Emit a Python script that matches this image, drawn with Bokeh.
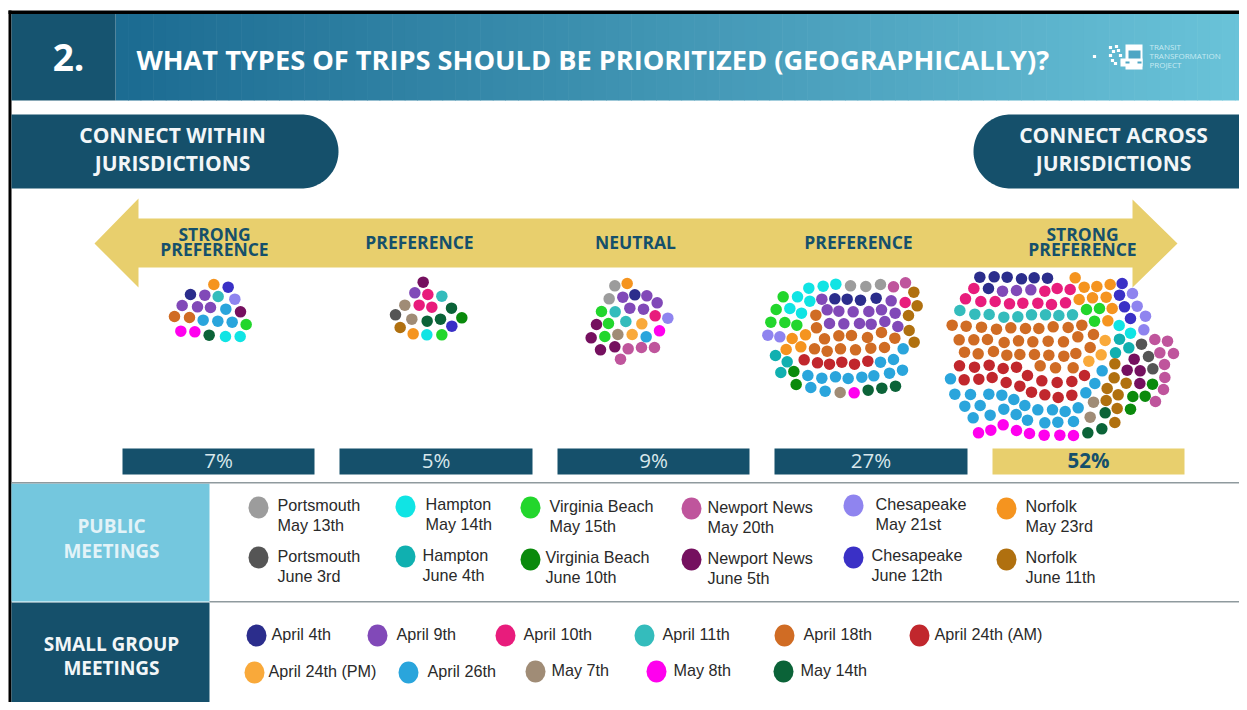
import numpy as np
from bokeh.plotting import figure
from bokeh.models import ColumnDataSource
from bokeh.core.properties import value
from bokeh.embed import file_html
from bokeh.resources import INLINE

# ---- meetings and their colours
MEETING_COLORS = {
    "portm": "#9c9c9c", "hamm": "#10e4e4", "vbm": "#22d62c", "nnm": "#bf559c", "chm": "#8f84ef", "norm": "#f5941f",
    "portj": "#555555", "hamj": "#10b0b0", "vbj": "#0a8a0c", "nnj": "#75105f", "chj": "#3a30c6", "norj": "#b0700f",
    "apr4": "#2b2d8c", "apr9": "#8149b8", "apr10": "#e81c7c", "apr11": "#34bcbc", "apr18": "#d06c24", "apr24am": "#c1272d",
    "apr24pm": "#f9a93a", "apr26": "#2aa5dc", "may7": "#a08c76", "may8": "#ff00ee", "may14": "#0b6338",
}
# ---- categories and shares
SCALE_LABELS = ["7%", "5%", "9%", "27%", "52%"]
SCALE_LEFT = [122, 339, 557, 774, 992]
SCALE_RIGHT = [314, 532, 749, 967, 1184]
PREF_X = [214, 419, 635, 858, 1082]

# ---- dots: (x, y, meeting); divide by SCALE and add origin
SCALE = 3.0
DOTS_A = (150, 270, [(190,42,"norm"),(233,50,"chj"),(120,72,"apr4"),(163,74,"apr9"),(203,78,"apr11"),(253,86,"chm"),
    (95,105,"apr9"),(141,109,"apr9"),(180,111,"apr9"),(226,116,"apr26"),(270,124,"nnj"),(72,138,"apr18"),(117,141,"apr18"),
    (158,149,"apr26"),(202,152,"apr26"),(245,155,"apr26"),(287,162,"vbm"),(91,182,"may8"),(133,184,"may8"),(176,194,"may14"),
    (225,198,"hamm"),(269,198,"hamm")])
DOTS_B = (375, 270, [(143,35,"nnj"),(118,67,"apr9"),(157,72,"apr10"),(199,77,"apr11"),(88,104,"may7"),(131,104,"apr10"),
    (169,110,"apr10"),(228,113,"may14"),(60,133,"portj"),(109,146,"may7"),(155,152,"may14"),(195,146,"may14"),(259,142,"vbj"),
    (229,167,"chj"),(74,171,"norj"),(113,190,"norm"),(154,193,"hamm"),(199,193,"vbm")])
DOTS_C = (575, 270, [(118,46,"portm"),(155,39,"norm"),(101,85,"portm"),(142,80,"apr9"),(178,73,"apr4"),(214,76,"apr9"),
    (245,97,"apr9"),(78,123,"vbm"),(119,124,"apr11"),(163,113,"apr9"),(204,116,"apr9"),(239,136,"apr10"),(277,143,"chm"),
    (63,162,"nnj"),(99,159,"vbm"),(151,153,"apr11"),(199,160,"apr24pm"),(47,202,"nnj"),(88,198,"vbm"),(127,192,"may7"),
    (170,192,"apr24pm"),(212,199,"apr26"),(252,181,"may8"),(75,238,"nnj"),(118,229,"nnj"),(158,235,"nnm"),(198,231,"nnm"),
    (237,231,"nnm"),(135,266,"nnm")])
DOTS_D = (755, 270, [(160,53,"hamm"),(203,47,"hamm"),(241,41,"hamm"),(285,46,"portm"),(331,48,"portm"),(375,42,"portm"),
    (414,49,"nnm"),(450,37,"nnm"),(475,65,"norj"),(83,79,"vbm"),(126,79,"hamm"),(163,92,"hamm"),(199,86,"apr9"),(238,85,"apr4"),
    (275,86,"apr4"),(315,89,"apr4"),(362,83,"apr4"),(407,91,"apr9"),(449,96,"apr10"),(485,106,"norj"),(62,117,"vbm"),
    (103,114,"hamm"),(138,128,"hamm"),(181,134,"apr18"),(215,118,"apr9"),(250,122,"apr9"),(293,124,"apr9"),(340,123,"apr9"),
    (378,118,"apr9"),(419,128,"apr9"),(459,135,"norj"),(46,155,"vbm"),(88,156,"vbm"),(124,164,"vbm"),(183,172,"apr18"),
    (222,159,"apr9"),(265,160,"apr9"),(312,159,"apr9"),(347,161,"apr9"),(388,153,"apr9"),(427,168,"apr9"),(461,180,"norj"),
    (37,194,"chm"),(73,199,"chm"),(110,204,"norm"),(150,193,"norm"),(207,205,"apr18"),(250,196,"apr18"),(288,195,"apr18"),
    (336,201,"apr18"),(378,186,"apr18"),(418,203,"apr18"),(476,215,"norj"),(92,237,"norm"),(136,229,"norm"),(177,235,"apr18"),
    (215,242,"apr18"),(255,235,"apr18"),(300,238,"apr18"),(346,233,"apr18"),(387,231,"apr18"),(443,235,"apr26"),(60,255,"hamj"),
    (146,268,"apr24am"),(186,277,"apr24am"),(222,281,"apr24am"),(259,275,"apr24am"),(297,281,"apr24am"),(337,272,"apr24am"),
    (375,275,"apr26"),(414,267,"apr26"),(95,274,"hamj"),(76,306,"hamj"),(115,303,"vbj"),(157,315,"apr26"),(199,323,"apr26"),
    (240,319,"apr26"),(278,324,"apr26"),(319,320,"apr26"),(355,316,"apr26"),(402,308,"apr26"),(441,299,"apr26"),(122,342,"vbj"),
    (166,351,"apr26"),(209,362,"apr26"),(254,366,"may7"),(296,367,"may8"),(338,359,"may14"),(379,353,"may14"),(420,347,"may14")])
DOTS_E1 = (940, 265, [(118,35,"apr4"),(161,34,"apr4"),(200,35,"apr4"),(243,40,"apr4"),(281,37,"apr4"),(321,38,"apr4"),
    (100,69,"apr10"),(144,69,"apr4"),(186,77,"apr9"),(228,75,"apr9"),(271,73,"apr9"),(313,77,"apr10"),(350,69,"apr10"),
    (75,100,"apr10"),(121,108,"apr10"),(164,108,"apr10"),(207,115,"apr10"),(247,113,"apr10"),(292,113,"apr10"),(333,117,"apr10"),
    (58,135,"apr11"),(103,146,"apr11"),(146,147,"apr11"),(190,155,"apr11"),(232,154,"apr11"),(273,148,"apr11"),(315,148,"apr11"),(355,150,"apr11"),
    (35,179,"apr18"),(77,182,"apr18"),(123,185,"apr18"),(168,191,"apr18"),(211,187,"apr18"),(255,189,"apr18"),(295,189,"apr18"),(338,184,"apr18"),
    (56,223,"apr18"),(100,223,"apr18"),(141,222,"apr18"),(191,231,"apr18"),(234,226,"apr18"),(277,229,"apr18"),(323,227,"apr18")])
DOTS_E2 = (1060, 265, [(44,37,"norm"),(71,65,"norm"),(109,63,"norm"),(149,57,"norm"),(185,54,"chj"),(29,72,"apr10"),(15,112,"apr10"),
    (56,102,"norm"),(96,97,"norm"),(137,95,"norm"),(177,89,"chj"),(216,84,"chm"),(78,132,"vbm"),(117,129,"vbm"),(155,129,"norm"),
    (192,124,"chj"),(230,122,"chm"),(36,148,"apr11"),(102,167,"vbm"),(142,166,"norm"),(210,159,"chj"),(255,152,"chm"),(23,186,"apr18"),
    (64,179,"apr18"),(176,180,"hamm"),(250,193,"chm"),(9,229,"apr18"),(52,214,"apr18"),(99,207,"apr18"),(134,225,"apr24pm"),
    (177,221,"hamj"),(210,203,"hamm"),(283,222,"nnm"),(321,227,"nnm"),(89,246,"apr18"),(205,247,"hamj"),(243,236,"portj")])
DOTS_E3 = (940, 350, [(72,5,"apr18"),(113,10,"apr18"),(159,3,"apr18"),(199,14,"apr18"),(238,12,"apr18"),(282,12,"apr18"),(325,14,"apr18"),
    (299,46,"apr18"),(345,52,"apr18"),(57,46,"apr24am"),(102,50,"apr24am"),(146,44,"apr24am"),(188,54,"apr24am"),(228,50,"apr24am"),
    (30,85,"apr26"),(71,88,"apr24am"),(115,86,"apr24am"),(155,81,"apr24am"),(197,96,"apr24am"),(261,75,"apr24am"),(304,91,"apr24am"),
    (350,96,"apr24am"),(238,107,"apr24am"),(273,125,"apr24am"),(313,133,"apr24am"),(353,141,"apr24am"),(43,131,"apr26"),(90,132,"apr26"),
    (145,131,"apr26"),(184,134,"apr26"),(220,147,"apr26"),(73,167,"apr26"),(119,165,"apr26"),(190,176,"apr26"),(253,165,"apr26"),
    (292,178,"apr26"),(336,178,"apr26"),(98,202,"apr26"),(149,194,"apr26"),(227,192,"apr26"),(261,209,"apr26"),(313,217,"apr26"),
    (352,215,"apr26"),(114,247,"may8"),(151,239,"may8"),(188,223,"may8"),(228,240,"may8"),(267,249,"may8"),(311,254,"may8"),(358,254,"may8")])
DOTS_E4 = (1060, 350, [(10,17,"apr18"),(46,9,"apr18"),(122,13,"apr24pm"),(165,7,"hamj"),(221,26,"nnj"),(264,18,"portj"),(298,7,"nnm"),(339,9,"nnm"),
    (38,52,"apr18"),(85,32,"apr24pm"),(163,40,"norj"),(200,59,"nnj"),(239,61,"nnj"),(277,55,"portj"),(312,42,"nnm"),(72,75,"apr24am"),
    (125,61,"apr26"),(161,82,"norj"),(197,98,"norj"),(238,99,"nnj"),(276,101,"vbj"),(313,81,"nnm"),(34,93,"apr24am"),(103,99,"apr26"),
    (140,114,"norj"),(309,117,"nnm"),(34,134,"apr24am"),(76,127,"apr26"),(173,133,"norj"),(217,138,"vbj"),(254,137,"vbj"),(99,155,"may7"),
    (137,150,"norj"),(285,153,"nnm"),(53,172,"apr26"),(14,183,"apr26"),(134,187,"may14"),(170,174,"norj"),(210,176,"vbj"),(89,200,"may7"),
    (39,213,"apr26"),(163,216,"norj"),(124,235,"may14"),(82,247,"may14"),(39,255,"may8")])

# ---- legend rows
LEGEND_PUBLIC = [
    (258,507,277,506,"Portsmouth","May 13th","portm"),(405,506,425,505,"Hampton","May 14th","hamm"),
    (530,507,549,507,"Virginia Beach","May 15th","vbm"),(691,508,707,508,"Newport News","May 20th","nnm"),
    (853,505,875,505,"Chesapeake","May 21st","chm"),(1006,508,1025,507,"Norfolk","May 23rd","norm"),
    (258,557,277,557,"Portsmouth","June 3rd","portj"),(405,556,422,556,"Hampton","June 4th","hamj"),
    (530,559,545,558,"Virginia Beach","June 10th","vbj"),(691,559,707,559,"Newport News","June 5th","nnj"),
    (853,557,871,556,"Chesapeake","June 12th","chj"),(1006,559,1025,558,"Norfolk","June 11th","norj"),
]
LEGEND_SMALL = [
    (256,635,271,"April 4th","apr4"),(377,635,396,"April 9th","apr9"),(505,635,523,"April 10th","apr10"),
    (644,635,662,"April 11th","apr11"),(784,635,803,"April 18th","apr18"),(919,635,934,"April 24th (AM)","apr24am"),
    (254,672,268,"April 24th (PM)","apr24pm"),(408,672,427,"April 26th","apr26"),(535,671,551,"May 7th","may7"),
    (656,671,673,"May 8th","may8"),(783,671,800,"May 14th","may14"),
]

DARK = "#15506b"
YELLOW = "#e8cf6d"
HEAD = "Open Sans"

p = figure(width=1239, height=702, x_range=(0, 1239), y_range=(702, 0), output_backend="svg",
           toolbar_location=None, min_border=0, outline_line_color=None, background_fill_color="white")
p.axis.visible = False
p.grid.visible = False


def label(x, y, t, size, color, font=HEAD, style="bold", align="center"):
    p.text([x], [y - 1.2], text=[t], text_font=value(font), text_font_size=f"{size}px", text_font_style=style,
           text_color=color, text_align=align, text_baseline="middle")


# frame
p.quad(left=8, right=1247, top=10, bottom=13.5, fill_color="black", line_color=None)
p.quad(left=8, right=11, top=10, bottom=710, fill_color="black", line_color=None)

# header band with gradient
edges = np.linspace(115, 1247, 91)
c0, c1 = np.array([0x1c, 0x6c, 0x92]), np.array([0x6b, 0xc4, 0xda])
for a, b in zip(edges[:-1], edges[1:]):
    t = (a - 115) / (1247 - 115)
    r, g, bl = (c0 + (c1 - c0) * t).astype(int)
    p.quad(left=a, right=b + 0.6, top=13.5, bottom=100, fill_color=f"#{r:02x}{g:02x}{bl:02x}", line_color=None)
p.quad(left=11, right=115, top=13.5, bottom=100, fill_color="#165470", line_color=None)
label(68, 58, "2.", 37, "white")
label(136, 60, "WHAT TYPES OF TRIPS SHOULD BE PRIORITIZED (GEOGRAPHICALLY)?", 27.2, "white", align="left")

# logo
p.quad(left=[1125, 1120], right=[1142, 1142], top=[44, 58], bottom=[69, 66], fill_color="white", line_color=None)
p.quad(left=[1128, 1125, 1137], right=[1140, 1129, 1141], top=[50, 61, 61], bottom=[58, 63, 63],
       fill_color="#4ea6c4", line_color=None)
p.scatter([1094, 1110, 1113, 1118, 1116, 1112, 1120, 1122, 1110, 1115], [56, 55, 51, 50, 46, 60, 55, 61, 47, 63], size=3.2,
          marker="square", color="white", line_color=None)
for i, t in enumerate(["TRANSIT", "TRANSFORMATION", "PROJECT"]):
    label(1149, 47 + 9 * i, t, 8, "#c8eaf2", style="normal", align="left")

# pills
th = np.linspace(-np.pi / 2, np.pi / 2, 60)
p.patch(np.r_[11, 301 + 37 * np.cos(th), 11], np.r_[114, 151 + 37 * np.sin(th), 188], fill_color=DARK, line_color=None)
p.patch(np.r_[1247, 1010 - 37 * np.cos(th), 1247], np.r_[114, 151 + 37 * np.sin(th), 188], fill_color=DARK, line_color=None)
label(172, 136, "CONNECT WITHIN", 21, "#f2f6f8")
label(172, 164, "JURISDICTIONS", 21, "#f2f6f8")
label(1113, 136, "CONNECT ACROSS", 21, "#f2f6f8")
label(1113, 164, "JURISDICTIONS", 21, "#f2f6f8")

# arrow
p.patch([94, 138, 138, 1132, 1132, 1177, 1132, 1132, 138, 138],
        [243, 198, 218, 218, 199, 243, 287, 267, 267, 287], fill_color=YELLOW, line_color=None)
label(PREF_X[0], 235, "STRONG", 17.5, DARK)
label(PREF_X[0], 250, "PREFERENCE", 17.5, DARK)
label(PREF_X[1], 243, "PREFERENCE", 17.5, DARK)
label(PREF_X[2], 243, "NEUTRAL", 17.5, DARK)
label(PREF_X[3], 243, "PREFERENCE", 17.5, DARK)
label(PREF_X[4], 235, "STRONG", 17.5, DARK)
label(PREF_X[4], 250, "PREFERENCE", 17.5, DARK)

# dots
xs, ys, cs = [], [], []
for ox, oy, pts in [DOTS_A, DOTS_B, DOTS_C, DOTS_D, DOTS_E1, DOTS_E2, DOTS_E3, DOTS_E4]:
    for x, y, m in pts:
        xs.append(ox + x / SCALE)
        ys.append(oy + y / SCALE)
        cs.append(MEETING_COLORS[m])
p.scatter("x", "y", size=11.5, color="c", line_color=None, source=ColumnDataSource(dict(x=xs, y=ys, c=cs)))

# share bars
for i, (a, b, t) in enumerate(zip(SCALE_LEFT, SCALE_RIGHT, SCALE_LABELS)):
    last = i == len(SCALE_LABELS) - 1
    p.quad(left=a, right=b, top=448, bottom=474, fill_color=YELLOW if last else DARK, line_color=None)
    label((a + b) / 2, 461, t, 20.5, DARK if last else "#d9e8ec", style="bold" if last else "normal")

# lower table
p.quad(left=11, right=209, top=483, bottom=601, fill_color="#74c7de", line_color=None)
p.quad(left=11, right=209, top=602, bottom=710, fill_color=DARK, line_color=None)
p.quad(left=11, right=1247, top=481.5, bottom=483, fill_color="#8f9a9e", line_color=None)
p.quad(left=209, right=1247, top=600.5, bottom=602, fill_color="#8f9a9e", line_color=None)
label(111, 527, "PUBLIC", 19, "#e3f3f8")
label(111, 552, "MEETINGS", 19, "#e3f3f8")
label(111, 645, "SMALL GROUP", 19, "#f2f6f8")
label(111, 669, "MEETINGS", 19, "#f2f6f8")

for mx, my, tx, ty, a, b, m in LEGEND_PUBLIC:
    p.ellipse([mx], [my], width=20, height=22, fill_color=MEETING_COLORS[m], line_color=None)
    label(tx, ty, a, 16.2, "#2a2a2a", font="Liberation Sans", style="normal", align="left")
    label(tx, ty + 20, b, 16.2, "#2a2a2a", font="Liberation Sans", style="normal", align="left")
for mx, my, tx, t, m in LEGEND_SMALL:
    p.ellipse([mx], [my], width=20, height=22, fill_color=MEETING_COLORS[m], line_color=None)
    label(tx, my, t, 16.2, "#2a2a2a", font="Liberation Sans", style="normal", align="left")

open("out.html", "w").write(file_html(p, INLINE))
